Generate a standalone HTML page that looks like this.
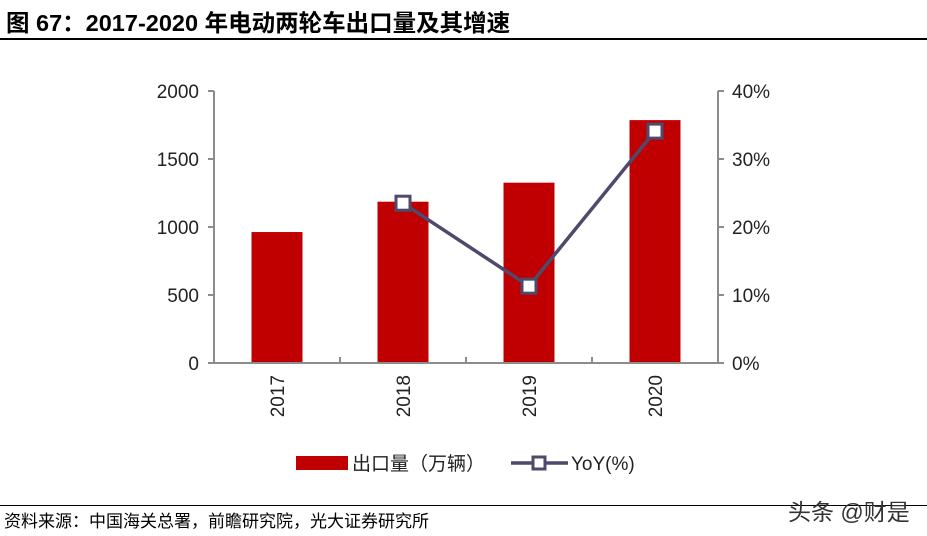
<!DOCTYPE html>
<html><head><meta charset="utf-8"><style>
body{margin:0;width:927px;height:536px;background:#fff;overflow:hidden;font-family:"Liberation Sans","Noto Sans CJK SC",sans-serif}
#title{position:absolute;left:6px;top:4px;font-size:23.5px;font-weight:bold;color:#000;white-space:nowrap}
#rule{position:absolute;left:0;top:38px;width:927px;height:2px;background:#000}
#foot{position:absolute;left:0;top:505px;width:927px;height:1px;background:#000}
#src{position:absolute;left:4px;top:507px;font-size:17px;color:#000;white-space:nowrap}
#wm{position:absolute;left:788px;top:493px;font-size:23px;color:#333;white-space:nowrap}
svg{position:absolute;left:0;top:0}
</style></head><body>
<div id="title">图 67：2017-2020 年电动两轮车出口量及其增速</div>
<div id="rule"></div>
<svg id="chart" width="927" height="536"></svg>
<div id="foot"></div>
<div id="src">资料来源：中国海关总署，前瞻研究院，光大证券研究所</div>
<div id="wm">头条 @财是</div>
<script>
const categories=["2017","2018","2019","2020"];
const exportVolume=[963,1186,1326,1786];
const yoy=[null,23.5,11.3,34.1];
const leftTicks=[0,500,1000,1500,2000];
const rightTicks=[0,10,20,30,40];
const rightTickLabels=["0%","10%","20%","30%","40%"];
const legendLabels=["出口量（万辆）","YoY(%)"];

const NS="http://www.w3.org/2000/svg";
const svg=document.getElementById('chart');
const X0=214,X1=718,Y0=363,Y1=91;
const yL=v=>Y0-(v/2000)*(Y0-Y1);
const yR=v=>Y0-(v/40)*(Y0-Y1);
const bw=(X1-X0)/categories.length;
const xC=i=>X0+bw*(i+0.5);
function mk(t,a){const e=document.createElementNS(NS,t);for(const k in a)e.setAttribute(k,a[k]);svg.appendChild(e);return e;}
const axc="#8c8c8c";
exportVolume.forEach((v,i)=>{
 const r=mk('rect',{x:xC(i)-25.5,y:yL(v),width:51,height:Y0-yL(v),fill:'#c00000'});
 
 
});
let a=mk('line',{x1:X0,y1:Y1,x2:X0,y2:Y0,stroke:axc,'stroke-width':2});

a=mk('line',{x1:X1,y1:Y1,x2:X1,y2:Y0,stroke:axc,'stroke-width':2});

a=mk('line',{x1:X0,y1:Y0,x2:X1,y2:Y0,stroke:axc,'stroke-width':2});

leftTicks.forEach(v=>{
 mk('line',{x1:X0-6,y1:yL(v),x2:X0,y2:yL(v),stroke:axc,'stroke-width':2});
 const t=mk('text',{x:X0-15,y:yL(v)+7,'text-anchor':'end','font-size':19,fill:'#222'});t.textContent=v;
 
});
rightTicks.forEach((v,i)=>{
 mk('line',{x1:X1,y1:yR(v),x2:X1+6,y2:yR(v),stroke:axc,'stroke-width':2});
 const t=mk('text',{x:X1+14,y:yR(v)+7,'font-size':19,fill:'#222'});t.textContent=rightTickLabels[i];
 
});
for(let i=1;i<categories.length;i++)mk('line',{x1:X0+bw*i,y1:Y0-6,x2:X0+bw*i,y2:Y0,stroke:axc,'stroke-width':2});
categories.forEach((c,i)=>{
 const t=mk('text',{x:0,y:0,'text-anchor':'end','font-size':19,fill:'#222',transform:`translate(${xC(i)+7},${Y0+12}) rotate(-90)`});t.textContent=c;
 
});
const pts=[];yoy.forEach((v,i)=>{if(v!==null)pts.push([xC(i),yR(v)]);});
const pl=mk('polyline',{points:pts.map(p=>p.join(',')).join(' '),fill:'none',stroke:'#4d4a6b','stroke-width':3.5});

pts.forEach(p=>{
 const m=mk('rect',{x:p[0]-7,y:p[1]-7,width:14,height:14,fill:'#fff',stroke:'#4d4a6b','stroke-width':3});
 
});
let l=mk('rect',{x:296,y:456,width:52,height:14,fill:'#c00000'});

let t=mk('text',{x:352,y:470,'font-size':19,fill:'#222'});t.textContent=legendLabels[0];

l=mk('line',{x1:511,y1:463,x2:568,y2:463,stroke:'#4d4a6b','stroke-width':3.5});

mk('rect',{x:533,y:457,width:12,height:12,fill:'#fff',stroke:'#4d4a6b','stroke-width':3});
t=mk('text',{x:571,y:470,'font-size':19,fill:'#222'});t.textContent=legendLabels[1];

</script>
</body></html>
